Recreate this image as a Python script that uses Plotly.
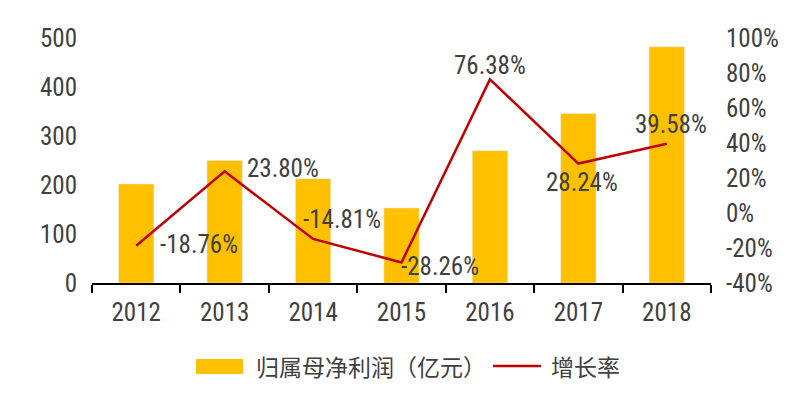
import plotly.graph_objects as go

years = ["2012", "2013", "2014", "2015", "2016", "2017", "2018"]
profit = [202, 250, 213, 153, 270, 346, 482]
growth = [-18.76, 23.80, -14.81, -28.26, 76.38, 28.24, 39.58]
growth_labels = ["-18.76%", "23.80%", "-14.81%", "-28.26%", "76.38%", "28.24%", "39.58%"]
left_ticks = [0, 100, 200, 300, 400, 500]
right_ticks = [-40, -20, 0, 20, 40, 60, 80, 100]
right_tick_text = ["-40%", "-20%", "0%", "20%", "40%", "60%", "80%", "100%"]

label_shift = [(63, 1), (58, 3), (29, 19), (38, -4), (0, 14), (4, -19), (4, 19)]

NUM_FONT = "Liberation Sans Narrow, Arial Narrow, Roboto Condensed, Liberation Sans, sans-serif"
CJK_FONT = "Noto Sans CJK SC, sans-serif"
TXT = "#404040"
BAR = "#FFC000"
LINE = "#C00000"

W, H = 808, 401
L, R, T, B = 92, 711, 38, 283

fig = go.Figure()
fig.add_trace(go.Bar(x=years, y=profit, marker_color=BAR, name="归属母净利润（亿元）",
                     yaxis="y", showlegend=False))
fig.add_trace(go.Scatter(x=years, y=growth, mode="lines", line=dict(color=LINE, width=2.5),
                         name="增长率", yaxis="y2", showlegend=False))

ann = []
for i, (g, t, (dx, dy)) in enumerate(zip(growth, growth_labels, label_shift)):
    ann.append(dict(x=i, y=g, xref="x", yref="y2", text=t, showarrow=False,
                    xanchor="center", yanchor="middle",
                    xshift=dx, yshift=dy, font=dict(family=NUM_FONT, size=25, color=TXT)))

def px(xp):
    return (xp - L) / (R - L)

def py(yp):
    return (B - yp) / (B - T)

shapes = [
    dict(type="rect", xref="paper", yref="paper", x0=px(196), x1=px(243), y0=py(374), y1=py(359),
         fillcolor=BAR, line=dict(width=0)),
    dict(type="line", xref="paper", yref="paper", x0=px(493), x1=px(541), y0=py(366), y1=py(366),
         line=dict(color=LINE, width=2.5)),
]
ann.append(dict(xref="paper", yref="paper", x=px(254), y=py(366), xanchor="left", yanchor="middle",
                text="归属母净利润（亿元）", showarrow=False,
                font=dict(family=CJK_FONT, size=23, color=TXT)))
ann.append(dict(xref="paper", yref="paper", x=px(549), y=py(366), xanchor="left", yanchor="middle",
                text="增长率", showarrow=False,
                font=dict(family=CJK_FONT, size=23, color=TXT)))

fig.update_layout(
    width=W, height=H,
    margin=dict(l=L, r=W - R, t=T, b=H - B, pad=0),
    paper_bgcolor="white", plot_bgcolor="white",
    bargap=0.6,
    showlegend=False,
    xaxis=dict(type="category", range=[-0.5, 6.5], showline=True, linecolor="black", linewidth=1.5,
               ticks="outside", tickson="boundaries", ticklen=8, tickwidth=1.5, tickcolor="black",
               showgrid=False, zeroline=False,
               tickfont=dict(family=NUM_FONT, size=25, color=TXT), ticklabelstandoff=6),
    yaxis=dict(range=[0, 500], tickvals=left_ticks, showgrid=False, zeroline=False, showline=False,
               tickfont=dict(family=NUM_FONT, size=25, color=TXT), ticklabelstandoff=14),
    yaxis2=dict(range=[-40, 100], tickvals=right_ticks, ticktext=right_tick_text, overlaying="y",
                side="right", showgrid=False, zeroline=False, showline=False,
                tickfont=dict(family=NUM_FONT, size=25, color=TXT), ticklabelstandoff=14),
    annotations=ann,
    shapes=shapes,
)

fig.write_html("out.html", config={"displayModeBar": False},
               post_script="document.body.style.margin='0';document.body.style.overflow='hidden';")
